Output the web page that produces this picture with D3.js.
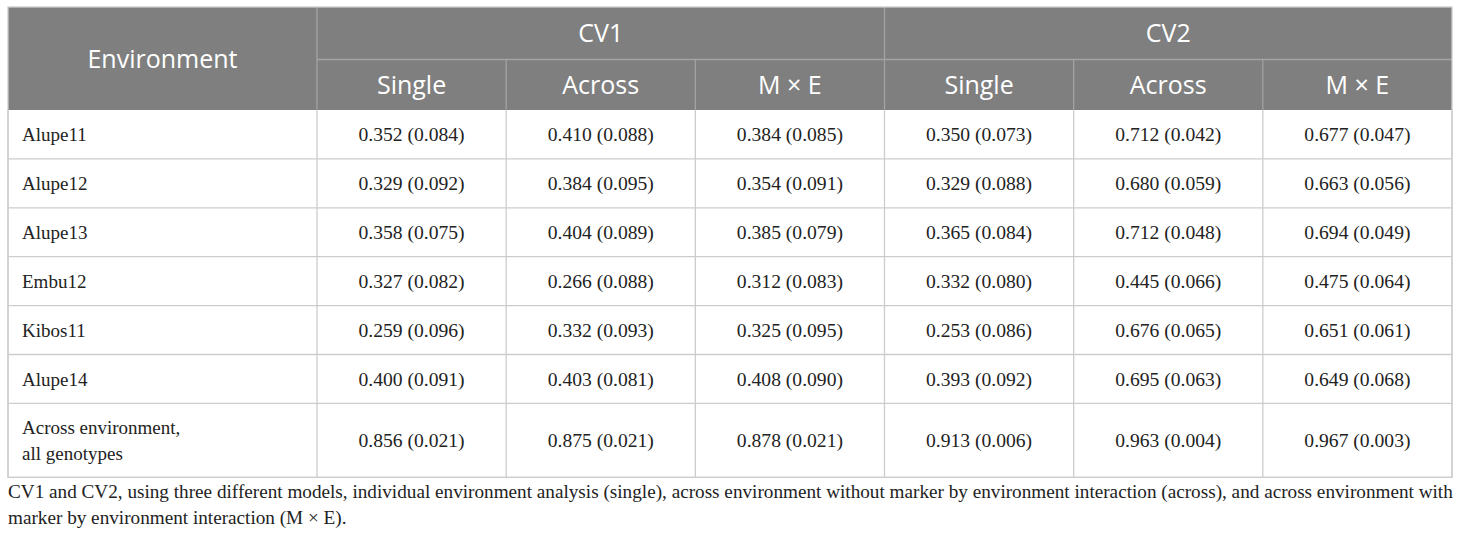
<!DOCTYPE html>
<html>
<head>
<meta charset="utf-8">
<script src="https://cdn.jsdelivr.net/npm/d3@7"></script>
<style>
  body { margin: 0; background: #fff; }
  svg { display: block; }
</style>
</head>
<body>
<div id="chart"></div>
<script>
// Table content
const groups = ["CV1", "CV2"];
const models = ["Single", "Across", "M \u00d7 E"];
const environments = ["Alupe11", "Alupe12", "Alupe13", "Embu12", "Kibos11", "Alupe14", "Across environment,\nall genotypes"];
const cv1Values = [
  ["0.352 (0.084)", "0.410 (0.088)", "0.384 (0.085)"],
  ["0.329 (0.092)", "0.384 (0.095)", "0.354 (0.091)"],
  ["0.358 (0.075)", "0.404 (0.089)", "0.385 (0.079)"],
  ["0.327 (0.082)", "0.266 (0.088)", "0.312 (0.083)"],
  ["0.259 (0.096)", "0.332 (0.093)", "0.325 (0.095)"],
  ["0.400 (0.091)", "0.403 (0.081)", "0.408 (0.090)"],
  ["0.856 (0.021)", "0.875 (0.021)", "0.878 (0.021)"]
];
const cv2Values = [
  ["0.350 (0.073)", "0.712 (0.042)", "0.677 (0.047)"],
  ["0.329 (0.088)", "0.680 (0.059)", "0.663 (0.056)"],
  ["0.365 (0.084)", "0.712 (0.048)", "0.694 (0.049)"],
  ["0.332 (0.080)", "0.445 (0.066)", "0.475 (0.064)"],
  ["0.253 (0.086)", "0.676 (0.065)", "0.651 (0.061)"],
  ["0.393 (0.092)", "0.695 (0.063)", "0.649 (0.068)"],
  ["0.913 (0.006)", "0.963 (0.004)", "0.967 (0.003)"]
];
const captionLines = [
  "CV1 and CV2, using three different models, individual environment analysis (single), across environment without marker by environment interaction (across), and across environment with",
  "marker by environment interaction (M \u00d7 E)."
];

const width = 1460, height = 539;
const tLeft = 8, tRight = 1452, tTop = 7;
const firstColW = 309;
const headH1 = 52.5, headH2 = 50.5;
const rowH = 48.9, lastRowH = 74;
const headFill = "#7f7f7f";
const headLine = "#a3a3a3";
const bodyLine = "#cdcdcd";
const sansFont = "'Open Sans', 'Noto Sans', sans-serif";
const serifFont = "'Liberation Serif', 'Times New Roman', serif";

const svg = d3.select("#chart")
  .append("svg")
  .attr("width", width)
  .attr("height", height);

// column scale for the six value columns (CV1 x3, CV2 x3)
const valueCols = groups.flatMap(g => models.map(m => g + "|" + m));
const x = d3.scaleBand()
  .domain(valueCols)
  .range([tLeft + firstColW, tRight]);

const xGroup = d3.scaleBand()
  .domain(groups)
  .range([tLeft + firstColW, tRight]);

// row positions, last row taller
const bodyTop = tTop + headH1 + headH2;
const rowTops = environments.map((e, i) => bodyTop + i * rowH);
const rowHeights = environments.map((e, i) => i === environments.length - 1 ? lastRowH : rowH);
const y = d3.scaleOrdinal().domain(environments).range(rowTops);
const bodyBottom = rowTops[rowTops.length - 1] + lastRowH;

// header background
svg.append("rect")
  .attr("x", tLeft)
  .attr("y", tTop)
  .attr("width", tRight - tLeft)
  .attr("height", headH1 + headH2)
  .attr("fill", headFill);

// header lines
const hl = svg.append("g").attr("stroke", headLine).attr("stroke-width", 1.3);
hl.append("line") // under CV1 / CV2
  .attr("x1", tLeft + firstColW).attr("x2", tRight)
  .attr("y1", tTop + headH1).attr("y2", tTop + headH1);
hl.append("line")
  .attr("x1", tLeft + firstColW).attr("x2", tLeft + firstColW)
  .attr("y1", tTop).attr("y2", tTop + headH1 + headH2);
hl.selectAll(".grpLine")
  .data(groups.slice(1))
  .enter()
  .append("line")
  .attr("x1", d => xGroup(d)).attr("x2", d => xGroup(d))
  .attr("y1", tTop).attr("y2", tTop + headH1 + headH2);
hl.selectAll(".colLine")
  .data(valueCols.filter(c => !c.endsWith("|" + models[0])))
  .enter()
  .append("line")
  .attr("x1", d => x(d)).attr("x2", d => x(d))
  .attr("y1", tTop + headH1).attr("y2", tTop + headH1 + headH2);

// header text
const ht = svg.append("g")
  .attr("fill", "#fff")
  .attr("font-family", sansFont)
  .attr("font-size", 25)
  .attr("text-anchor", "middle");

ht.append("text")
  .attr("x", tLeft + firstColW / 2)
  .attr("y", tTop + (headH1 + headH2) / 2 + 9)
  .text("Environment");

ht.selectAll(".grp")
  .data(groups)
  .enter()
  .append("text")
  .attr("x", d => xGroup(d) + xGroup.bandwidth() / 2)
  .attr("y", tTop + headH1 / 2 + 9)
  .text(d => d);

ht.selectAll(".mdl")
  .data(valueCols)
  .enter()
  .append("text")
  .attr("x", d => x(d) + x.bandwidth() / 2)
  .attr("y", tTop + headH1 + headH2 / 2 + 9)
  .text(d => d.split("|")[1]);

// body grid
const bl = svg.append("g").attr("stroke", bodyLine).attr("stroke-width", 1.3);
bl.selectAll(".rowLine")
  .data(environments)
  .enter()
  .append("line")
  .attr("x1", tLeft).attr("x2", tRight)
  .attr("y1", d => y(d) + rowHeights[environments.indexOf(d)])
  .attr("y2", d => y(d) + rowHeights[environments.indexOf(d)]);
bl.selectAll(".vLine")
  .data([tLeft, tLeft + firstColW].concat(valueCols.slice(1).map(c => x(c)), [tRight]))
  .enter()
  .append("line")
  .attr("x1", d => d).attr("x2", d => d)
  .attr("y1", bodyTop).attr("y2", bodyBottom);
// outer frame
svg.append("rect")
  .attr("x", tLeft).attr("y", tTop)
  .attr("width", tRight - tLeft).attr("height", bodyBottom - tTop)
  .attr("fill", "none")
  .attr("stroke", bodyLine)
  .attr("stroke-width", 1.3);

// body text
const bt = svg.append("g")
  .attr("fill", "#222")
  .attr("font-family", serifFont)
  .attr("font-size", 19);

const rows = bt.selectAll(".row")
  .data(environments.map((e, i) => ({ env: e, i: i, vals: cv1Values[i].concat(cv2Values[i]) })))
  .enter()
  .append("g")
  .attr("class", "row")
  .attr("transform", d => "translate(0," + (y(d.env) + rowHeights[d.i] / 2) + ")");

rows.each(function (d) {
  const lines = d.env.split("\n");
  const t = d3.select(this).append("text")
    .attr("x", tLeft + 14);
  lines.forEach((l, k) => {
    t.append("tspan")
      .attr("x", tLeft + 14)
      .attr("y", 7 + (k - (lines.length - 1) / 2) * 26)
      .text(l);
  });
});

rows.selectAll(".cell")
  .data(d => d.vals.map((v, j) => ({ v: v, col: valueCols[j] })))
  .enter()
  .append("text")
  .attr("text-anchor", "middle")
  .attr("font-size", 19.6)
  .attr("x", d => x(d.col) + x.bandwidth() / 2)
  .attr("y", 7)
  .text(d => d.v);

// caption
svg.append("g")
  .attr("fill", "#222")
  .attr("font-family", serifFont)
  .attr("font-size", 19.2)
  .selectAll("text")
  .data(captionLines)
  .enter()
  .append("text")
  .attr("x", tLeft)
  .attr("y", (d, i) => 498 + i * 26)
  .text(d => d);
</script>
</body>
</html>
